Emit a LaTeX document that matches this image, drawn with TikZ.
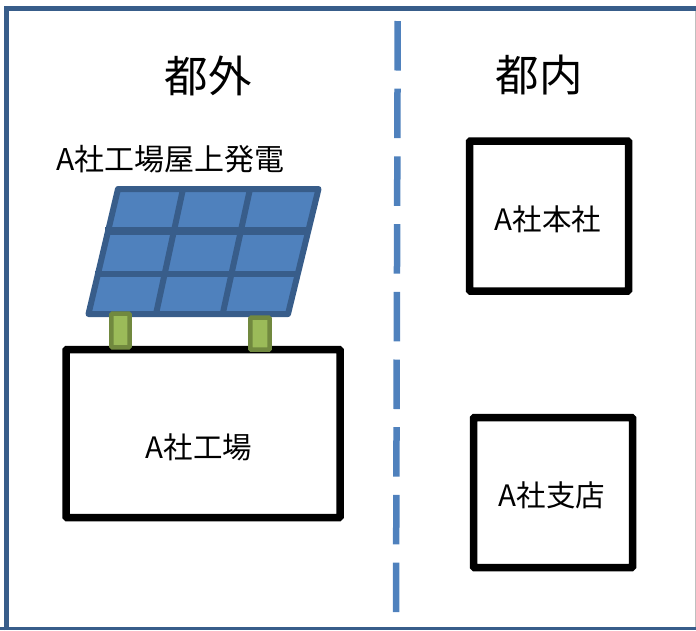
\documentclass[tikz,border=0pt]{standalone}
\usepackage{fontspec}
\setmainfont{Noto Sans CJK JP}
\definecolor{framecol}{RGB}{56,93,138}
\definecolor{panelcol}{RGB}{79,129,189}
\definecolor{legcol}{RGB}{155,187,89}
\definecolor{legline}{RGB}{113,137,63}
\tikzset{
  office/.style={draw=black,line width=7.5pt,rounded corners=1pt},
  legbox/.style={draw=legline,fill=legcol,line width=4.5pt,rounded corners=1pt,inner sep=0pt},
  gridline/.style={draw=framecol,line width=6pt},
  region/.style={font=\fontsize{43.5}{43.5}\selectfont},
  label/.style={font=\fontsize{29.5}{29.5}\selectfont}
}
\begin{document}
\begin{tikzpicture}[x=1pt,y=-1pt]
  \useasboundingbox (0,0) rectangle (696,630);
  \draw[lightgray,line width=1pt] (695.5,8) -- (695.5,627);
  \draw[framecol,line width=5.5pt] (6.5,630) -- (6.5,8.5) -- (696,8.5);
  \draw[framecol,line width=3.5pt] (0,628.5) -- (696,628.5);
  % divider
  \draw[panelcol,line width=6.5pt,dash pattern=on 49.5pt off 18.2pt] (397.7,21) -- (396,613);
  % panel
  \draw[gridline,fill=panelcol,line join=round] (118,189) -- (318.5,189) -- (288,314) -- (88.5,314) -- cycle;
  \draw[gridline,line width=8pt] (105,231) -- (310,231);
  \draw[gridline] (95,274) -- (300,274);
  \draw[gridline] (183,189) -- (156,314);
  \draw[gridline] (250,189) -- (222.7,314);
  % buildings
  \node[office,minimum width=274pt,minimum height=168pt] (factory) at (203,433.5) {};
  \node[office,minimum width=159pt,minimum height=150pt] (head) at (549,216) {};
  \node[office,minimum width=159pt,minimum height=150pt] (branch) at (553,492.5) {};
  \node[legbox,minimum width=18.4pt,minimum height=33.6pt] (legA) at (120.5,330.5) {};
  \node[legbox,minimum width=19.4pt,minimum height=32pt] (legB) at (260,333.7) {};
  \node[label] (factorytext) at (199,447) {A社工場};
  \node[label] (headtext) at (548,219) {A社本社};
  \node[label] (branchtext) at (552,495) {A社支店};
  \node[label,font=\fontsize{30}{30}\selectfont,anchor=west,inner sep=0pt] (roof) at (56,159) {A社工場屋上発電};
  \node[region] (out) at (208,75.5) {都外};
  \node[region] (in) at (539,75.5) {都内};
\end{tikzpicture}
\end{document}
